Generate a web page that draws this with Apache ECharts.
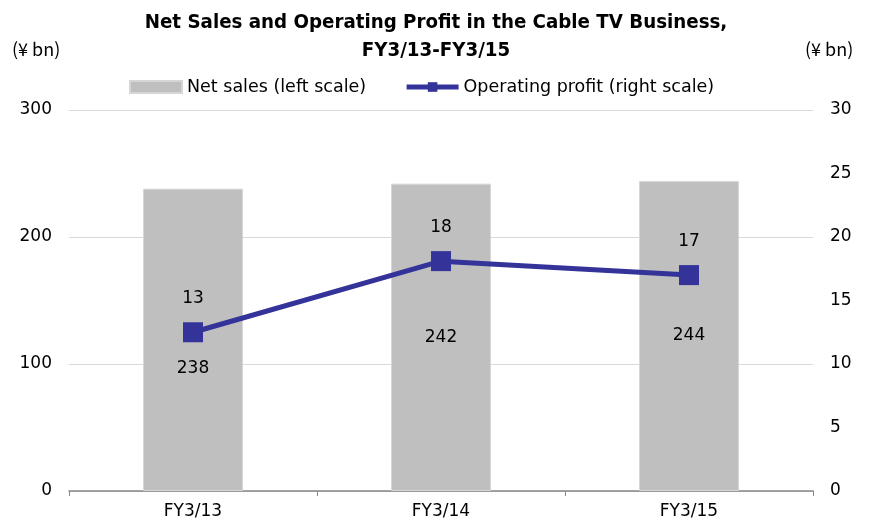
<!DOCTYPE html>
<html>
<head>
<meta charset="utf-8">
<script src="https://cdn.jsdelivr.net/npm/echarts@6/dist/echarts.min.js"></script>
<style>
    html, body { margin: 0; padding: 0; background: #fff; }
    #chart { width: 872px; height: 523px; }
</style>
</head>
<body>
<div id="chart"></div>
<script>
// 数据
const categories = ['FY3/13', 'FY3/14', 'FY3/15'];
const netSales = [238, 242, 244];
const operatingProfit = [12.5, 18.1, 17.0];
const profitLabels = ['13', '18', '17'];
const leftTicks = [0, 300, 100];
const rightTicks = [0, 30, 5];

const font = '"DejaVu Sans", sans-serif';
const cjkFont = '"Noto Sans CJK JP", "Noto Sans", sans-serif';
const barColor = '#bfbfbf';
const lineColor = '#333399';

var chart = echarts.init(document.getElementById('chart'));

var option = {
    backgroundColor: '#fff',
    animation: false,
    title: {
        text: 'Net Sales and Operating Profit in the Cable TV Business,\nFY3/13-FY3/15',
        left: 'center',
        top: 4,
        textStyle: {
            fontFamily: '"Liberation Sans Narrow", "DejaVu Sans Condensed", sans-serif',
            fontWeight: 'bold',
            fontSize: 20.3,
            lineHeight: 28,
            color: '#000'
        }
    },
    graphic: [
        { type: 'text', left: 12, top: 40, style: { text: '(¥ bn)', font: '18px ' + cjkFont, fill: '#000' } },
        { type: 'text', left: 805, top: 40, style: { text: '(¥ bn)', font: '18px ' + cjkFont, fill: '#000' } }
    ],
    legend: {
        top: 73,
        left: 124,
        itemGap: 38,
        itemWidth: 52,
        itemHeight: 12,
        textStyle: { fontFamily: font, fontSize: 17.5, color: '#000' },
        data: [
            { name: 'Net sales (left scale)', icon: 'rect' },
            { name: 'Operating profit (right scale)', lineStyle: { width: 5, color: lineColor } }
        ]
    },
    grid: {
        left: 69,
        right: 59,
        top: 110,
        bottom: 32
    },
    xAxis: {
        type: 'category',
        data: categories,
        axisLine: { lineStyle: { color: '#868686', width: 1.5 } },
        axisTick: { show: true, length: 5, lineStyle: { color: '#868686' } },
        axisLabel: { fontFamily: font, fontSize: 17, color: '#000', margin: 12 }
    },
    yAxis: [
        {
            type: 'value',
            min: leftTicks[0],
            max: leftTicks[1],
            interval: leftTicks[2],
            axisLine: { show: false },
            axisTick: { show: false },
            axisLabel: { fontFamily: font, fontSize: 17, color: '#000', margin: 17 },
            splitLine: { lineStyle: { color: '#d9d9d9', width: 1 } }
        },
        {
            type: 'value',
            min: rightTicks[0],
            max: rightTicks[1],
            interval: rightTicks[2],
            axisLine: { show: false },
            axisTick: { show: false },
            axisLabel: { fontFamily: font, fontSize: 17, color: '#000', margin: 17 },
            splitLine: { show: false }
        }
    ],
    series: [
        {
            name: 'Net sales (left scale)',
            type: 'bar',
            yAxisIndex: 0,
            barWidth: 100,
            itemStyle: { color: barColor, borderColor: '#d6d6d6', borderWidth: 1 },
            label: {
                show: true,
                position: 'inside',
                fontFamily: font,
                fontSize: 17,
                color: '#000'
            },
            data: netSales.map((v, i) => ({
                value: v,
                // 第一个标签往下移，避开折线
                label: i === 0 ? { offset: [0, 29] } : {}
            })),
            z: 1
        },
        {
            name: 'Operating profit (right scale)',
            type: 'line',
            yAxisIndex: 1,
            symbol: 'rect',
            symbolSize: 20,
            lineStyle: { color: lineColor, width: 5 },
            itemStyle: { color: lineColor },
            label: {
                show: true,
                position: 'top',
                distance: 15,
                fontFamily: font,
                fontSize: 17,
                color: '#000',
                formatter: p => profitLabels[p.dataIndex]
            },
            data: operatingProfit,
            z: 3
        }
    ]
};

chart.setOption(option);
</script>
</body>
</html>
